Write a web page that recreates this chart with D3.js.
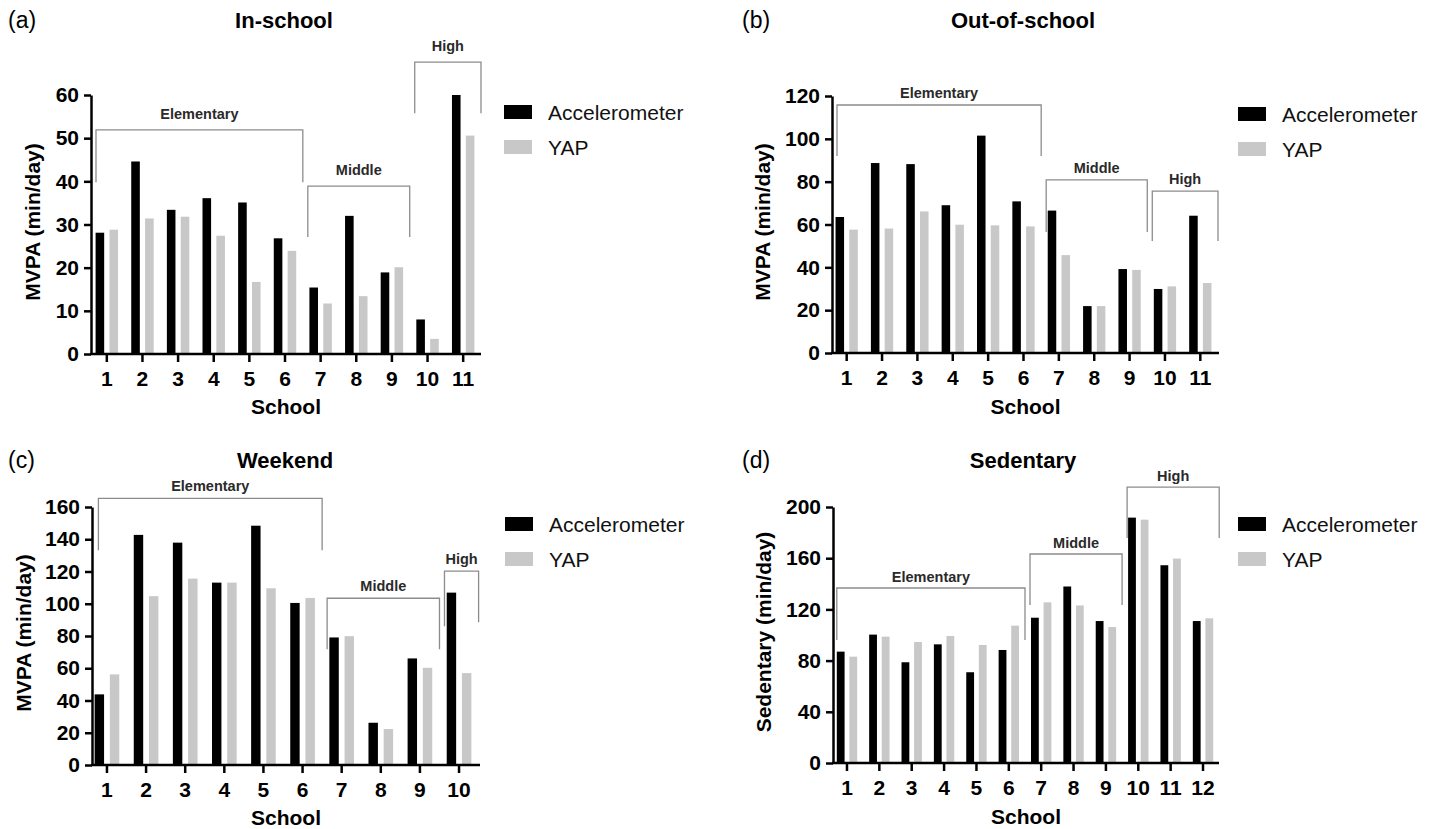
<!DOCTYPE html>
<html>
<head>
<meta charset="utf-8">
<script src="https://cdn.jsdelivr.net/npm/d3@7"></script>
<style>
  html, body { margin: 0; padding: 0; background: #fff; }
  svg { display: block; font-family: "Liberation Sans", Arial, Helvetica, sans-serif; }
</style>
</head>
<body>
<svg id="chart" width="1432" height="829"></svg>
<script>
// ---------------- DATA ----------------
const seriesNames = ["Accelerometer", "YAP"];

// (a) In-school
const schoolsA = ["1","2","3","4","5","6","7","8","9","10","11"];
const accA = [28.1, 44.6, 33.4, 36.1, 35.1, 26.8, 15.4, 32.0, 18.9, 8.0, 60.0];
const yapA = [28.8, 31.4, 31.8, 27.4, 16.7, 23.9, 11.7, 13.4, 20.1, 3.5, 50.6];
const yTicksA = [0, 10, 20, 30, 40, 50, 60];

// (b) Out-of-school
const schoolsB = ["1","2","3","4","5","6","7","8","9","10","11"];
const accB = [63.5, 88.7, 88.2, 69.0, 101.5, 70.8, 66.5, 21.9, 39.2, 29.9, 64.1];
const yapB = [57.6, 58.1, 66.1, 59.9, 59.6, 59.1, 45.7, 21.9, 38.8, 31.1, 32.7];
const yTicksB = [0, 20, 40, 60, 80, 100, 120];

// (c) Weekend
const schoolsC = ["1","2","3","4","5","6","7","8","9","10"];
const accC = [43.8, 142.7, 137.9, 113.1, 148.4, 100.5, 79.1, 26.2, 66.1, 106.9];
const yapC = [56.2, 104.7, 115.6, 113.1, 109.6, 103.6, 79.9, 22.3, 60.3, 57.0];
const yTicksC = [0, 20, 40, 60, 80, 100, 120, 140, 160];

// (d) Sedentary
const schoolsD = ["1","2","3","4","5","6","7","8","9","10","11","12"];
const accD = [87.0, 100.3, 78.7, 92.7, 70.9, 88.3, 113.5, 137.9, 110.9, 191.7, 154.5, 110.9];
const yapD = [83.1, 98.7, 94.5, 99.2, 92.2, 107.3, 125.5, 123.1, 106.2, 190.1, 159.7, 113.0];
const yTicksD = [0, 40, 80, 120, 160, 200];

// School-level group brackets: first/last school, bracket top and drop ends (in y units)
const bracketsA = [
  {name: "Elementary", from: "1",  to: "6",  top: 51.9, dropL: 39.8, dropR: 39.8},
  {name: "Middle",     from: "7",  to: "9",  top: 38.9, dropL: 27.1, dropR: 27.1},
  {name: "High",       from: "10", to: "11", top: 67.6, dropL: 55.8, dropR: 55.8}
];
const bracketsB = [
  {name: "Elementary", from: "1",  to: "6",  top: 115.8, dropL: 92.0, dropR: 92.0},
  {name: "Middle",     from: "7",  to: "9",  top: 80.8,  dropL: 56.5, dropR: 56.5},
  {name: "High",       from: "10", to: "11", top: 75.6,  dropL: 52.3, dropR: 52.3}
];
const bracketsC = [
  {name: "Elementary", from: "1",  to: "6",  top: 165.4, dropL: 133.2, dropR: 133.2},
  {name: "Middle",     from: "7",  to: "9",  top: 103.4, dropL: 71.8,  dropR: 71.8},
  {name: "High",       from: "10", to: "10", top: 120.2, dropL: 86.1,  dropR: 88.6}
];
const bracketsD = [
  {name: "Elementary", from: "1",  to: "6",  top: 136.7, dropL: 96.1,  dropR: 96.1},
  {name: "Middle",     from: "7",  to: "9",  top: 163.3, dropL: 123.4, dropR: 123.4},
  {name: "High",       from: "10", to: "12", top: 215.6, dropL: 175.8, dropR: 175.8}
];

// ---------------- LAYOUT ----------------
const panels = [
  {letter: "(a)", title: "In-school", ylabel: "MVPA (min/day)", schools: schoolsA, acc: accA, yap: yapA, yTicks: yTicksA, brackets: bracketsA,
   L: {axisX: 91, band: [89, 481], xEnd: 481, y: [354, 95], titleX: 284, titleY: 20, letterX: 8, ylabelX: 32, ylabelY: 222, xlabelY: 406, legX: 504, legY: 105, elemInset: 7, labelGap: 16}},
  {letter: "(b)", title: "Out-of-school", ylabel: "MVPA (min/day)", schools: schoolsB, acc: accB, yap: yapB, yTicks: yTicksB, brackets: bracketsB,
   L: {axisX: 832, band: [829, 1218], xEnd: 1219, y: [353, 96], titleX: 1023, titleY: 20, letterX: 742, ylabelX: 762, ylabelY: 222, xlabelY: 406, legX: 1238, legY: 107, elemInset: 8, labelGap: 12}},
  {letter: "(c)", title: "Weekend", ylabel: "MVPA (min/day)", schools: schoolsC, acc: accC, yap: yapC, yTicks: yTicksC, brackets: bracketsC,
   L: {axisX: 92, band: [87.4, 478.6], xEnd: 480, y: [765, 507], titleX: 285, titleY: 460, letterX: 8, ylabelX: 23, ylabelY: 633, xlabelY: 817, legX: 505, legY: 517, elemInset: 11, labelGap: 12}},
  {letter: "(d)", title: "Sedentary", ylabel: "Sedentary (min/day)", schools: schoolsD, acc: accD, yap: yapD, yTicks: yTicksD, brackets: bracketsD,
   L: {axisX: 833, band: [830.8, 1219.2], xEnd: 1219, y: [763, 507], titleX: 1023, titleY: 460, letterX: 742, ylabelX: 763, ylabelY: 632, xlabelY: 816, legX: 1238, legY: 517, elemInset: 6, labelGap: 11}}
];

const colors = {"Accelerometer": "#000000", "YAP": "#c8c8c8"};
const svg = d3.select("#chart");
const FONT = '"Liberation Sans", Arial, sans-serif';

panels.forEach(p => {
  const L = p.L;
  const g = svg.append("g");
  const yMax = p.yTicks[p.yTicks.length - 1];

  const x0 = d3.scaleBand().domain(p.schools).range(L.band).paddingInner(0).paddingOuter(0);
  const x1 = d3.scaleBand().domain(seriesNames).range([0, x0.bandwidth() * 0.63]).paddingInner(0.38);
  const groupOffset = x0.bandwidth() * 0.185;
  const y = d3.scaleLinear().domain([0, yMax]).range(L.y);

  const rows = p.schools.map((s, i) => ({school: s, values: [
    {series: "Accelerometer", v: p.acc[i]}, {series: "YAP", v: p.yap[i]}]}));

  // bars
  const grp = g.selectAll("g.grp").data(rows).join("g")
    .attr("transform", d => `translate(${x0(d.school) + groupOffset},0)`);
  grp.selectAll("rect").data(d => d.values).join("rect")
    .attr("x", d => x1(d.series))
    .attr("width", x1.bandwidth())
    .attr("y", d => y(d.v))
    .attr("height", d => y(0) - y(d.v))
    .attr("fill", d => colors[d.series]);

  // y axis
  const yAxis = g.append("g").attr("transform", `translate(${L.axisX},0)`)
    .call(d3.axisLeft(y).tickValues(p.yTicks).tickSize(7).tickSizeOuter(0).tickPadding(5).tickFormat(d3.format("d")));
  yAxis.selectAll("path, line").attr("stroke", "#000").attr("stroke-width", 2.5);
  yAxis.selectAll("text").attr("font-size", 21).attr("font-weight", "bold").attr("fill", "#000")
    .attr("font-family", FONT);

  // x axis
  const xAxis = g.append("g").attr("transform", `translate(0,${y(0)})`)
    .call(d3.axisBottom(x0).tickSize(8).tickSizeOuter(0).tickPadding(9));
  xAxis.select("path.domain").remove();
  xAxis.selectAll("line").attr("stroke", "#000").attr("stroke-width", 2.5);
  xAxis.selectAll("text").attr("font-size", 21).attr("font-weight", "bold").attr("fill", "#000")
    .attr("font-family", FONT);
  g.append("line").attr("x1", L.axisX - 1).attr("x2", L.xEnd).attr("y1", y(0)).attr("y2", y(0))
    .attr("stroke", "#000").attr("stroke-width", 2.5);

  // brackets
  p.brackets.forEach((b, i) => {
    const inset = i === 0 ? L.elemInset : 5;
    const xl = x0(b.from) + inset;
    const xr = Math.min(x0(b.to) + x0.step(), L.xEnd + 2);
    g.append("path")
      .attr("d", `M${xl},${y(b.dropL)}V${y(b.top)}H${xr}V${y(b.dropR)}`)
      .attr("fill", "none").attr("stroke", "#8c8c8c").attr("stroke-width", 1.3);
    g.append("text").attr("x", (xl + xr) / 2).attr("y", y(b.top) - L.labelGap)
      .attr("text-anchor", "middle").attr("dominant-baseline", "central")
      .attr("font-size", 14.5).attr("font-weight", "bold").attr("fill", "#2a2a2a").text(b.name);
  });

  // titles
  g.append("text").attr("x", L.titleX).attr("y", L.titleY).attr("text-anchor", "middle")
    .attr("dominant-baseline", "central").attr("font-size", 22).attr("font-weight", "bold").text(p.title);
  g.append("text").attr("x", L.letterX).attr("y", L.titleY).attr("dominant-baseline", "central")
    .attr("font-size", 23).text(p.letter);

  // axis labels
  g.append("text").attr("transform", `translate(${L.ylabelX},${L.ylabelY}) rotate(-90)`)
    .attr("text-anchor", "middle").attr("dominant-baseline", "central")
    .attr("font-size", 21).attr("font-weight", "bold").text(p.ylabel);
  g.append("text").attr("x", (L.axisX + L.xEnd) / 2).attr("y", L.xlabelY)
    .attr("text-anchor", "middle").attr("dominant-baseline", "central")
    .attr("font-size", 21).attr("font-weight", "bold").text("School");

  // legend
  seriesNames.forEach((s, i) => {
    g.append("rect").attr("x", L.legX).attr("y", L.legY + i * 35).attr("width", 28).attr("height", 14)
      .attr("fill", colors[s]);
    g.append("text").attr("x", L.legX + 44).attr("y", L.legY + 7 + i * 35)
      .attr("dominant-baseline", "central").attr("font-size", 21).attr("fill", "#111").text(s);
  });
});
</script>
</body>
</html>
